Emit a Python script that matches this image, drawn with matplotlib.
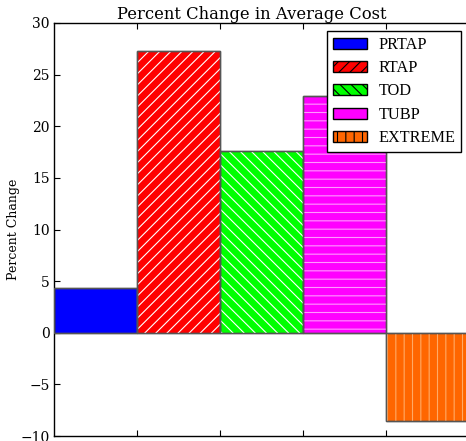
import matplotlib
matplotlib.use("Agg")
import matplotlib.pyplot as plt
from matplotlib.patches import Patch

categories = ["PRTAP", "RTAP", "TOD", "TUBP", "EXTREME"]
values = [4.3, 27.3, 17.6, 22.9, -8.5]
colors = ["#0000ff", "#ff0000", "#00ff00", "#ff00ff", "#ff6600"]
hatches = [None, "///", "\\\\\\", "--", "||"]
hatch_colors = ["white", "white", "white", "#ff99ff", "#ffaa66"]
legend_hatches = [None, "///", "\\\\\\", None, "||"]
yticks = [-10, -5, 0, 5, 10, 15, 20, 25, 30]

plt.rcParams['hatch.linewidth'] = 0.8
fig = plt.figure(figsize=(4.66, 4.41), dpi=100)
ax = fig.add_axes([54/466, 5/441, 1 - 54/466 + 0.02, (436-23)/441])

for i, (v, c, h, hc) in enumerate(zip(values, colors, hatches, hatch_colors)):
    ax.bar(i, v, width=1.0, color=c, edgecolor="#555555", linewidth=1.0, zorder=2)
    if h:
        ax.bar(i, v, width=1.0, fill=False, hatch=h, edgecolor=hc, linewidth=0, zorder=3)
    ax.bar(i, v, width=1.0, fill=False, edgecolor="#555555", linewidth=1.0, zorder=4)

ax_w_px = (1 - 54/466 + 0.02) * 466
ax.set_xlim(-0.5, -0.5 + ax_w_px / 83)
ax.set_ylim(-10, 30)
ax.set_yticks(yticks)
ax.set_xticks([0.5, 1.5, 2.5, 3.5])
ax.set_xticklabels([])
ax.tick_params(direction="in", top=True, right=False, length=4, width=0.8,
               colors="black", labelsize=10, labelfontfamily="DejaVu Serif", pad=3)
ax.spines['right'].set_visible(False)
for s in ['left', 'bottom', 'top']:
    ax.spines[s].set_linewidth(1.0)

ax.set_title("Percent Change in Average Cost", family="DejaVu Serif", fontsize=11.8, pad=3,
             x=(251.5 - 54) / ax_w_px)
ax.set_ylabel("Percent Change", family="DejaVu Serif", fontsize=9)
ax.yaxis.set_label_coords((20 - 54) / ax_w_px, 0.5)

handles = []
for c, h in zip(colors, legend_hatches):
    handles.append(Patch(facecolor=c, edgecolor="black", hatch=h, linewidth=1.0))
leg = ax.legend(handles, categories, loc="upper left", bbox_to_anchor=(327/466, 1 - 31/441),
                bbox_transform=fig.transFigure,
                prop={"family": "Liberation Serif", "size": 11.7},
                frameon=True, fancybox=False, edgecolor="black", framealpha=1,
                handlelength=2.1, handleheight=0.68, labelspacing=0.45, borderpad=0.36,
                handletextpad=0.7, borderaxespad=0)
leg.get_frame().set_linewidth(1.0)
leg.set_zorder(10)

fig.savefig("out.png", dpi=100)
